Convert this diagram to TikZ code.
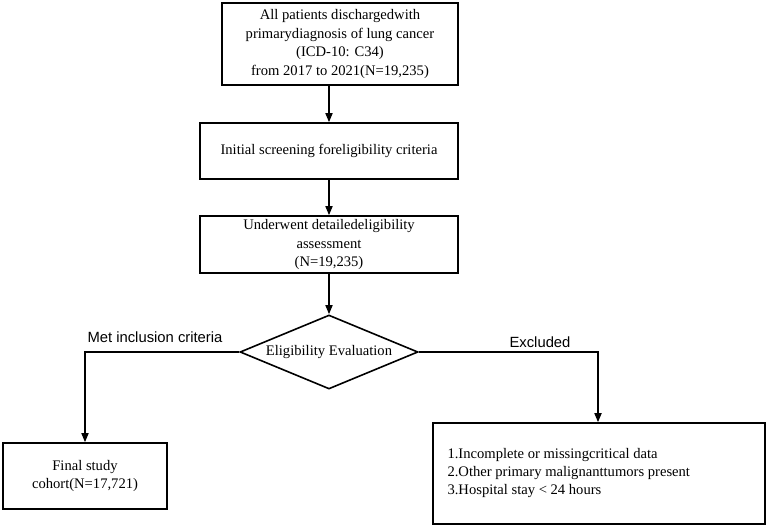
\documentclass[tikz,border=0pt]{standalone}
\usepackage{fontspec}
\setmainfont{Liberation Serif}
\newfontfamily\labfont{Liberation Sans}
\usetikzlibrary{arrows.meta,shapes.geometric}
\begin{document}
\begin{tikzpicture}[x=1pt,y=-1pt,
  box/.style={draw,line width=1.6pt,inner sep=0pt,align=center,font=\fontsize{14.6}{18.5}\selectfont},
  conn/.style={line width=1.6pt,-{Triangle[length=9pt,width=7pt]}},
  lab/.style={font=\labfont\fontsize{14.8}{16}\selectfont}]
\useasboundingbox (0,0) rectangle (767,527);
\fill[white] (0,0) rectangle (767,527);
\node[box,minimum width=236pt,minimum height=82pt] (b1) at (340,44) {All patients dischargedwith\\primarydiagnosis of lung cancer\\(ICD-10: C34)\\from 2017 to 2021(N=19,235)};
\node[box,minimum width=258pt,minimum height=56pt] (b2) at (329,151) {Initial screening foreligibility criteria};
\node[box,minimum width=258pt,minimum height=57pt] (b3) at (329,244.5) {Underwent detailedeligibility\\assessment\\(N=19,235)};
\node[draw,line width=1.6pt,diamond,aspect=2.4,inner sep=0pt,minimum width=178pt,minimum height=74pt,font=\fontsize{14.6}{16}\selectfont] (d) at (329,352) {Eligibility Evaluation};
\node[box,minimum width=164pt,minimum height=66pt] (f) at (85,476) {Final study\\cohort(N=17,721)};
\node[box,minimum width=332pt,minimum height=101pt] (e) at (599,473.5) {};
\node[anchor=west,align=left,font=\fontsize{14.6}{18}\selectfont] (et) at (444,473) {1.Incomplete or missingcritical data\\2.Other primary malignanttumors present\\3.Hospital stay < 24 hours};
\coordinate (cl) at (85,352);
\coordinate (cr) at (598,352);
\draw[conn] (b1.south -| b2.north) -- (b2.north);
\draw[conn] (b2.south) -- (b3.north);
\draw[conn] (b3.south) -- (d.north);
\draw[conn] (d.west) -- (cl) -- (f.north);
\draw[conn] (d.east) -- (cr) -- (e.north -| cr);
\node[lab] (l1) at (155,337) {Met inclusion criteria};
\node[lab] (l2) at (540,342) {Excluded};
\end{tikzpicture}
\end{document}
